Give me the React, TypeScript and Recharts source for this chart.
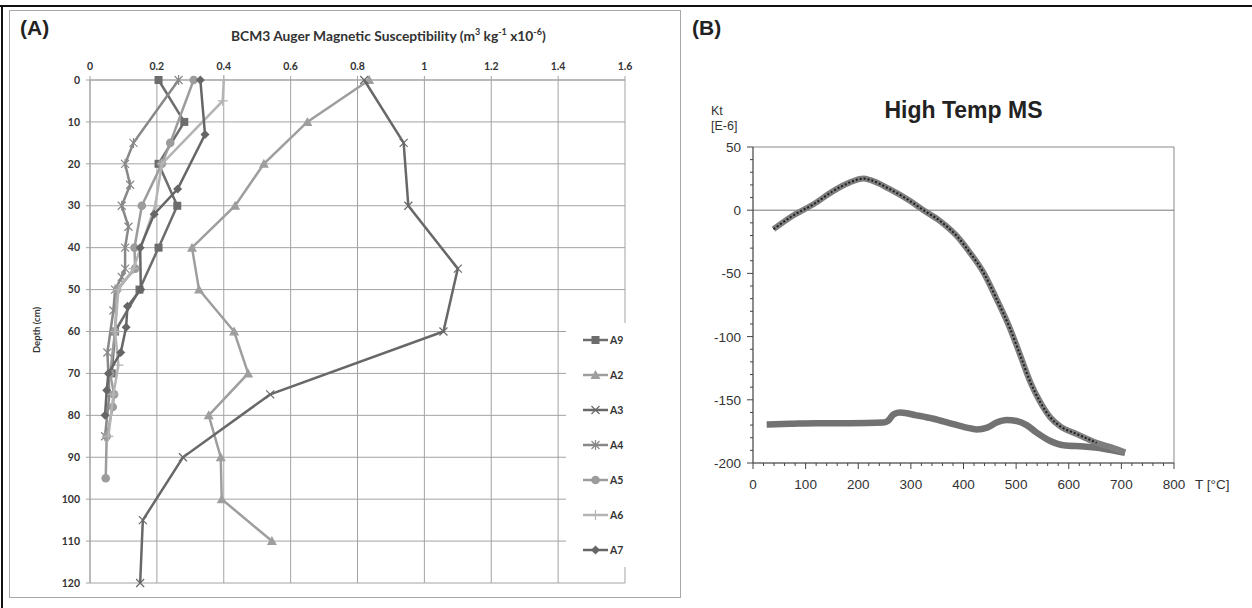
import React from "react";
import {
  CartesianGrid,
  Line,
  LineChart,
  ReferenceArea,
  ReferenceLine,
  Scatter,
  ScatterChart,
  XAxis,
  YAxis,
} from "recharts";

// ---- panel A: auger magnetic susceptibility vs depth ----
const msTicks = [0, 0.2, 0.4, 0.6, 0.8, 1, 1.2, 1.4, 1.6];
const depthTicks = [0, 10, 20, 30, 40, 50, 60, 70, 80, 90, 100, 110, 120];

const a9 = [
  { ms: 0.205, depth: 0 }, { ms: 0.282, depth: 10 }, { ms: 0.205, depth: 20 },
  { ms: 0.261, depth: 30 }, { ms: 0.205, depth: 40 }, { ms: 0.148, depth: 50 },
  { ms: 0.075, depth: 60 }, { ms: 0.065, depth: 70 },
];
const a2 = [
  { ms: 0.835, depth: 0 }, { ms: 0.65, depth: 10 }, { ms: 0.52, depth: 20 },
  { ms: 0.434, depth: 30 }, { ms: 0.305, depth: 40 }, { ms: 0.326, depth: 50 },
  { ms: 0.431, depth: 60 }, { ms: 0.473, depth: 70 }, { ms: 0.355, depth: 80 },
  { ms: 0.391, depth: 90 }, { ms: 0.394, depth: 100 }, { ms: 0.544, depth: 110 },
];
const a3 = [
  { ms: 0.82, depth: 0 }, { ms: 0.938, depth: 15 }, { ms: 0.952, depth: 30 },
  { ms: 1.1, depth: 45 }, { ms: 1.057, depth: 60 }, { ms: 0.539, depth: 75 },
  { ms: 0.278, depth: 90 }, { ms: 0.158, depth: 105 }, { ms: 0.15, depth: 120 },
];
const a4 = [
  { ms: 0.265, depth: 0 }, { ms: 0.13, depth: 15 }, { ms: 0.105, depth: 20 },
  { ms: 0.12, depth: 25 }, { ms: 0.095, depth: 30 }, { ms: 0.115, depth: 35 },
  { ms: 0.105, depth: 40 }, { ms: 0.105, depth: 45 }, { ms: 0.095, depth: 47 },
  { ms: 0.075, depth: 50 }, { ms: 0.07, depth: 55 }, { ms: 0.052, depth: 65 },
  { ms: 0.058, depth: 75 }, { ms: 0.045, depth: 85 },
];
const a5 = [
  { ms: 0.31, depth: 0 }, { ms: 0.24, depth: 15 }, { ms: 0.215, depth: 20 },
  { ms: 0.155, depth: 30 }, { ms: 0.133, depth: 40 }, { ms: 0.135, depth: 45 },
  { ms: 0.081, depth: 50 }, { ms: 0.075, depth: 60 }, { ms: 0.06, depth: 70 },
  { ms: 0.072, depth: 75 }, { ms: 0.068, depth: 78 }, { ms: 0.05, depth: 85 },
  { ms: 0.047, depth: 95 },
];
const a6 = [
  { ms: 0.4, depth: 0 }, { ms: 0.397, depth: 5 }, { ms: 0.215, depth: 20 },
  { ms: 0.195, depth: 30 }, { ms: 0.13, depth: 45 }, { ms: 0.085, depth: 50 },
  { ms: 0.075, depth: 60 }, { ms: 0.085, depth: 68 }, { ms: 0.07, depth: 75 },
  { ms: 0.055, depth: 85 },
];
const a7 = [
  { ms: 0.33, depth: 0 }, { ms: 0.344, depth: 13 }, { ms: 0.262, depth: 26 },
  { ms: 0.192, depth: 32 }, { ms: 0.15, depth: 40 }, { ms: 0.152, depth: 50 },
  { ms: 0.112, depth: 54 }, { ms: 0.108, depth: 59 }, { ms: 0.092, depth: 65 },
  { ms: 0.055, depth: 70 }, { ms: 0.05, depth: 74 }, { ms: 0.045, depth: 80 },
];

// ---- panel B: high temperature susceptibility ----
const heating = [
  { t: 39, k: -15 }, { t: 77, k: -4 }, { t: 115, k: 4.7 }, { t: 153, k: 15.3 },
  { t: 184, k: 22 }, { t: 210, k: 25 }, { t: 222, k: 24 }, { t: 260, k: 16.6 },
  { t: 298, k: 7.4 }, { t: 324, k: 0 }, { t: 355, k: -8.4 }, { t: 387, k: -20.3 },
  { t: 412, k: -33.5 }, { t: 438, k: -49.3 }, { t: 463, k: -70.4 }, { t: 489, k: -94.2 },
  { t: 508, k: -115 }, { t: 527, k: -136 }, { t: 546, k: -152 }, { t: 565, k: -164 },
  { t: 584, k: -171 }, { t: 615, k: -177 }, { t: 653, k: -184 }, { t: 680, k: -187.5 },
  { t: 707, k: -191.5 },
];
const cooling = [
  { t: 26, k: -169.5 }, { t: 70, k: -169 }, { t: 121, k: -168.5 }, { t: 184, k: -168.5 },
  { t: 248, k: -168 }, { t: 257, k: -166.5 }, { t: 267, k: -161.5 }, { t: 280, k: -160 },
  { t: 311, k: -162.3 }, { t: 343, k: -165 }, { t: 375, k: -168.6 }, { t: 406, k: -172 },
  { t: 425, k: -173.4 }, { t: 445, k: -172 }, { t: 463, k: -168 }, { t: 482, k: -166 },
  { t: 501, k: -166.8 }, { t: 520, k: -170 }, { t: 539, k: -176 }, { t: 565, k: -182.6 },
  { t: 590, k: -186 }, { t: 628, k: -187 }, { t: 666, k: -188.7 }, { t: 707, k: -192 },
];
const tempTicks = Array.from({ length: 41 }, (_, i) => i * 20);
const ktTicks = Array.from({ length: 26 }, (_, i) => -200 + i * 10);

type Kind = "square" | "triangle" | "x" | "star" | "circle" | "plus" | "diamond";

const drawMarker = (kind: Kind, color: string, cx: number, cy: number) => {
  switch (kind) {
    case "square":
      return <rect x={cx - 4} y={cy - 4} width={8} height={8} fill={color} />;
    case "triangle":
      return <polygon points={`${cx},${cy - 5} ${cx + 5},${cy + 4} ${cx - 5},${cy + 4}`} fill={color} />;
    case "x":
      return <path d={`M${cx - 4},${cy - 4}L${cx + 4},${cy + 4}M${cx - 4},${cy + 4}L${cx + 4},${cy - 4}`} stroke={color} strokeWidth={1.2} />;
    case "star":
      return <path d={`M${cx - 4},${cy - 4}L${cx + 4},${cy + 4}M${cx - 4},${cy + 4}L${cx + 4},${cy - 4}M${cx},${cy - 5}L${cx},${cy + 5}`} stroke={color} strokeWidth={1.2} />;
    case "circle":
      return <circle cx={cx} cy={cy} r={4.3} fill={color} />;
    case "plus":
      return <path d={`M${cx - 5},${cy}L${cx + 5},${cy}M${cx},${cy - 5}L${cx},${cy + 5}`} stroke={color} strokeWidth={1.2} />;
    default:
      return <polygon points={`${cx},${cy - 4.5} ${cx + 4.5},${cy} ${cx},${cy + 4.5} ${cx - 4.5},${cy}`} fill={color} />;
  }
};

const series: { name: string; data: { ms: number; depth: number }[]; color: string; kind: Kind }[] = [
  { name: "A9", data: a9, color: "#6d6d6d", kind: "square" },
  { name: "A2", data: a2, color: "#9e9e9e", kind: "triangle" },
  { name: "A3", data: a3, color: "#686868", kind: "x" },
  { name: "A4", data: a4, color: "#888888", kind: "star" },
  { name: "A5", data: a5, color: "#9c9c9c", kind: "circle" },
  { name: "A6", data: a6, color: "#b4b4b4", kind: "plus" },
  { name: "A7", data: a7, color: "#666666", kind: "diamond" },
];

const calibri = "Lato, 'Open Sans', sans-serif";
const arial = "'Liberation Sans', Arial, sans-serif";

const BTickY = (props: any) => {
  const { x, y, payload } = props;
  const major = payload.value % 50 === 0;
  return (
    <g>
      <line x1={x} x2={x - (major ? 6 : 3)} y1={y} y2={y} stroke="#444" />
      {major && (
        <text x={x - 12} y={y} dy={5} textAnchor="end" fontSize={13.5} fill="#333" fontFamily={arial}>
          {payload.value}
        </text>
      )}
    </g>
  );
};

const BTickX = (props: any) => {
  const { x, y, payload } = props;
  const major = payload.value % 100 === 0;
  return (
    <g>
      <line x1={x} x2={x} y1={y} y2={y + (major ? 6 : 3)} stroke="#444" />
      {major && (
        <text x={x} y={y + 26} textAnchor="middle" fontSize={13.5} fill="#333" fontFamily={arial}>
          {payload.value}
        </text>
      )}
    </g>
  );
};

export default function App() {
  return (
    <div style={{ position: "relative", width: 1252, height: 608, background: "#fff", overflow: "hidden" }}>
      <style>{`body{margin:0}`}</style>
      {/* figure frame */}
      <div style={{ position: "absolute", left: 0, top: 5, width: 1252, height: 2, background: "#111" }} />
      <div style={{ position: "absolute", left: 1, top: 5, width: 2, height: 603, background: "#111" }} />

      {/* panel A */}
      <div style={{ position: "absolute", left: 9, top: 10, width: 670, height: 586, border: "1px solid #a8a8a8" }} />
      <div style={{ position: "absolute", left: 20, top: 16, fontFamily: arial, fontWeight: 700, fontSize: 21, color: "#222" }}>(A)</div>
      <div style={{ position: "absolute", left: 231, top: 26, whiteSpace: "nowrap", fontFamily: calibri, fontWeight: 700, fontSize: 13.8, color: "#333" }}>
        BCM3 Auger Magnetic Susceptibility (m<sup style={{ fontSize: 9 }}>3</sup> kg<sup style={{ fontSize: 9 }}>-1</sup> x10<sup style={{ fontSize: 9 }}>-6</sup>)
      </div>
      <div
        style={{
          position: "absolute", left: 36, top: 330, transform: "translate(-50%,-50%) rotate(-90deg)",
          fontFamily: calibri, fontWeight: 700, fontSize: 9.5, color: "#333", whiteSpace: "nowrap",
        }}
      >
        Depth (cm)
      </div>
      <div style={{ position: "absolute", left: 0, top: 0 }}>
        <ScatterChart width={680} height={600} margin={{ top: 50, right: 55, bottom: 17, left: 50 }}>
          <CartesianGrid stroke="#a3a3a3" strokeWidth={1} />
          <XAxis
            type="number"
            dataKey="ms"
            orientation="top"
            domain={[0, 1.6]}
            ticks={msTicks}
            interval={0}
            height={30}
            tickSize={4}
            tickMargin={6}
            axisLine={{ stroke: "#a3a3a3" }}
            tickLine={{ stroke: "#a3a3a3" }}
            tickFormatter={(v: number) => String(Math.round(v * 10) / 10)}
            tick={{ fill: "#333", fontSize: 10.5, fontWeight: 700, fontFamily: calibri }}
          />
          <YAxis
            type="number"
            dataKey="depth"
            domain={[0, 120]}
            reversed
            ticks={depthTicks}
            interval={0}
            width={40}
            tickSize={4}
            tickMargin={6}
            axisLine={{ stroke: "#a3a3a3" }}
            tickLine={{ stroke: "#a3a3a3" }}
            tick={{ fill: "#333", fontSize: 10.5, fontWeight: 700, fontFamily: calibri }}
          />
          {series.map((s) => (
            <Scatter
              key={s.name}
              name={s.name}
              data={s.data}
              fill={s.color}
              line={{ stroke: s.color, strokeWidth: 2.5 }}
              lineType="joint"
              isAnimationActive={false}
              shape={(p: any) => drawMarker(s.kind, s.color, p.cx, p.cy)}
            />
          ))}
        </ScatterChart>
      </div>
      {/* legend of panel A */}
      <div style={{ position: "absolute", left: 566, top: 323, width: 74, height: 244, background: "#fff" }}>
        {series.map((s, i) => (
          <div key={s.name} style={{ position: "absolute", left: 17, top: 17 + i * 35 - 7, height: 14, display: "flex", alignItems: "center" }}>
            <svg width={26} height={14}>
              <line x1={0} x2={25} y1={7} y2={7} stroke={s.color} strokeWidth={2.5} />
              {drawMarker(s.kind, s.color, 12.5, 7)}
            </svg>
            <span style={{ fontFamily: calibri, fontWeight: 700, fontSize: 10.5, color: "#333", marginLeft: 1 }}>{s.name}</span>
          </div>
        ))}
      </div>

      {/* panel B */}
      <div style={{ position: "absolute", left: 692, top: 16, fontFamily: arial, fontWeight: 700, fontSize: 21, color: "#222" }}>(B)</div>
      <div style={{ position: "absolute", left: 753, width: 421, top: 97, textAlign: "center", fontFamily: arial, fontWeight: 700, fontSize: 23, color: "#222" }}>
        High Temp MS
      </div>
      <div style={{ position: "absolute", left: 711, top: 104, fontFamily: arial, fontSize: 12.5, color: "#333", lineHeight: "15px" }}>
        Kt
        <br />
        [E-6]
      </div>
      <div style={{ position: "absolute", left: 1195, top: 477, fontFamily: arial, fontSize: 13.5, color: "#333" }}>T [°C]</div>
      <div style={{ position: "absolute", left: 690, top: 0 }}>
        <LineChart width={560} height={520} margin={{ top: 147, right: 76, bottom: 27, left: 23 }}>
          <XAxis
            type="number"
            dataKey="t"
            domain={[0, 800]}
            ticks={tempTicks}
            interval={0}
            height={30}
            tickSize={0}
            tickMargin={0}
            tickLine={false}
            axisLine={{ stroke: "#555" }}
            tick={<BTickX />}
          />
          <YAxis
            type="number"
            domain={[-200, 50]}
            ticks={ktTicks}
            interval={0}
            width={40}
            tickSize={0}
            tickMargin={0}
            tickLine={false}
            axisLine={{ stroke: "#555" }}
            tick={<BTickY />}
          />
          <ReferenceArea x1={0} x2={800} y1={-200} y2={50} fill="none" stroke="#8a8a8a" />
          <ReferenceLine y={0} stroke="#777" />
          <Line data={cooling} dataKey="k" type="monotone" stroke="#727272" strokeWidth={6.5} dot={false} isAnimationActive={false} />
          <Line data={heating} dataKey="k" type="monotone" stroke="#7e7e7e" strokeWidth={6} dot={false} isAnimationActive={false} />
          <Line
            data={heating.filter((d) => d.t <= 655)}
            dataKey="k"
            type="monotone"
            stroke="#1e1e1e"
            strokeWidth={2}
            strokeDasharray="2 2"
            dot={false}
            isAnimationActive={false}
          />
        </LineChart>
      </div>
    </div>
  );
}
